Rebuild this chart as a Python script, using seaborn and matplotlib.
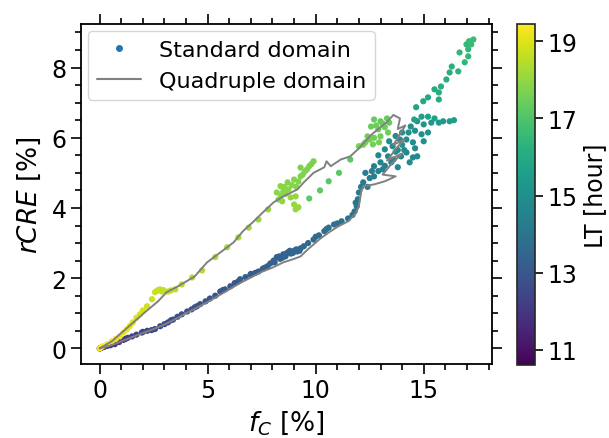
import numpy as np
import pandas as pd
import matplotlib
matplotlib.use("Agg")
import matplotlib.pyplot as plt
from matplotlib.lines import Line2D
from matplotlib.ticker import MultipleLocator
import seaborn as sns

# Standard domain, morning branch (lower curve)
morning_f = [0.0, 0.02, 0.05, 0.08, 0.12, 0.2, 0.35, 0.5, 0.7, 0.9, 1.1, 1.3, 1.5, 1.7, 1.95, 2.2,
             2.4, 2.56, 2.8, 3.0, 3.16, 3.4, 3.6, 3.8, 4.05, 4.25, 4.4, 4.65, 4.9, 5.1, 5.35, 5.58,
             5.8, 6.05, 6.25, 6.5, 6.75, 6.98, 7.2, 7.35, 7.55, 7.77, 7.9, 8.05, 8.2, 8.35, 8.5, 8.6,
             8.7, 8.85, 9.0, 9.15, 9.3, 9.45, 9.65, 9.9, 10.15, 10.4, 10.6, 10.85, 11.2, 11.5, 11.8,
             11.9, 11.95, 12.0,
             8.1, 8.3, 8.45, 8.65, 8.8, 8.95, 9.1, 9.25, 7.65, 7.0, 6.4, 5.7, 4.5, 3.3, 2.0, 1.2,
             10.0, 10.5, 11.0, 11.7, 11.85]
morning_r = [0.0, 0.0, 0.01, 0.02, 0.03, 0.04, 0.07, 0.09, 0.12, 0.18, 0.24, 0.3, 0.34, 0.39, 0.45, 0.5,
             0.52, 0.55, 0.63, 0.69, 0.74, 0.82, 0.9, 0.97, 1.05, 1.11, 1.17, 1.26, 1.34, 1.42, 1.5, 1.62,
             1.68, 1.77, 1.86, 1.97, 2.03, 2.1, 2.15, 2.19, 2.27, 2.34, 2.42, 2.5, 2.6, 2.55, 2.68, 2.62,
             2.73, 2.7, 2.78, 2.76, 2.85, 2.91, 3.0, 3.1, 3.22, 3.34, 3.44, 3.53, 3.62, 3.7, 3.9,
             4.05, 4.25, 4.44,
             2.45, 2.62, 2.58, 2.7, 2.78, 2.72, 2.82, 2.78, 2.3, 2.12, 1.9, 1.66, 1.2, 0.8, 0.47, 0.27,
             3.18, 3.4, 3.56, 3.8, 4.15]
morning_lt = [10.6, 10.85, 11.1, 11.35, 11.6, 11.8, 11.95, 12.0, 12.05, 12.1, 12.15, 12.2, 12.25, 12.3,
              12.35, 12.4, 12.45, 12.5, 12.55, 12.6, 12.62, 12.65, 12.7, 12.72, 12.75, 12.8, 12.82,
              12.85, 12.9, 12.92, 12.95, 13.0, 13.02, 13.05, 13.08, 13.1, 13.15, 13.18, 13.2, 13.22,
              13.25, 13.28, 13.3, 13.32, 13.35, 13.37, 13.4, 13.42, 13.45, 13.47, 13.5, 13.52, 13.55,
              13.58, 13.6, 13.65, 13.7, 13.75, 13.8, 13.85, 13.9, 13.95, 14.0, 14.05, 14.1, 14.15,
              13.33, 13.36, 13.39, 13.43, 13.46, 13.49, 13.52, 13.55, 13.27, 13.17, 13.08, 13.02,
              12.82, 12.63, 12.35, 12.17, 13.67, 13.78, 13.87, 13.97, 14.07]

# Standard domain, afternoon cluster and peak
noon_f = [12.2, 12.3, 12.1, 12.5, 12.7, 12.7, 12.9, 13.0, 13.2, 13.35, 13.6, 13.8, 13.95, 14.2, 14.5,
          14.7, 14.35, 13.2, 13.56, 13.9, 14.2, 14.5, 14.3, 14.4, 14.9, 15.2, 13.7, 14.0,
          12.4, 12.6, 13.1, 13.5, 13.8, 14.1, 14.6, 14.0, 13.7, 14.6, 15.0, 13.4, 12.9,
          14.7, 15.0, 15.35, 15.7, 15.9, 16.2, 16.4, 14.9, 15.2, 15.5,
          14.56, 14.65, 14.98, 15.2, 15.5, 15.7, 15.7, 15.8, 16.05, 16.2, 16.3, 16.6, 16.9, 16.66,
          17.06, 17.06, 16.98, 17.1, 17.3, 17.2]
noon_r = [4.73, 5.0, 4.6, 4.85, 4.9, 5.19, 5.05, 5.3, 5.2, 5.47, 5.38, 5.16, 5.47, 5.58, 5.44,
          5.47, 5.3, 5.67, 5.76, 5.95, 5.95, 5.87, 6.15, 6.32, 6.1, 6.15, 5.6, 5.8,
          4.6, 5.05, 5.1, 5.3, 5.65, 5.65, 5.7, 6.15, 6.05, 6.2, 5.9, 5.9, 5.5,
          6.47, 6.38, 6.43, 6.43, 6.47, 6.47, 6.5, 6.6, 6.6, 6.55,
          6.52, 6.87, 7.04, 7.15, 7.38, 7.09, 7.29, 7.46, 7.66, 7.86, 8.03, 7.89, 8.15, 8.43,
          8.32, 8.52, 8.66, 8.75, 8.8, 8.66]
noon_lt = [14.25, 14.3, 14.2, 14.35, 14.4, 14.45, 14.5, 14.55, 14.55, 14.6, 14.6, 14.65, 14.7, 14.7,
           14.75, 14.75, 14.8, 14.85, 14.85, 14.9, 14.9, 14.95, 15.0, 15.05, 15.1, 15.15, 15.0, 15.1,
           14.3, 14.42, 14.52, 14.62, 14.8, 14.82, 14.9, 15.0, 14.95, 15.1, 15.05, 14.9, 14.7,
           15.2, 15.25, 15.3, 15.35, 15.4, 15.45, 15.5, 15.55, 15.6, 15.6,
           15.8, 15.85, 15.9, 15.95, 16.0, 16.0, 16.05, 16.1, 16.15, 16.2, 16.25, 16.3, 16.35, 16.4,
           16.45, 16.5, 16.5, 16.55, 16.6, 16.6]

# Standard domain, evening branch (upper curve)
evening_f = [11.6, 11.08, 10.6, 10.2, 9.7,
             13.4, 13.0, 12.7, 12.56, 12.9, 13.2, 13.35, 13.0, 12.7, 12.4, 12.3, 12.65, 12.93, 12.0,
             13.1, 12.8, 12.5, 13.3, 12.2,
             9.9, 9.7, 9.6, 9.5, 9.3, 9.2, 9.0, 8.7, 8.37, 8.5, 8.74, 8.2, 8.28, 8.45, 8.84, 9.07,
             9.0, 9.07, 9.2, 9.3, 9.8, 8.9, 8.6, 8.4, 9.1, 8.55, 9.4,
             7.8, 7.35, 6.9, 6.42, 5.9, 5.35, 4.74, 4.28, 3.8,
             3.5, 3.3, 3.16, 2.95, 2.87, 2.79, 2.7, 2.65, 2.56, 2.42,
             2.19, 2.0, 1.86, 1.7, 1.53, 1.4, 1.26, 1.1, 0.93, 0.75, 0.56, 0.35, 0.14, 0.05, 0.0]
evening_r = [5.38, 5.0, 4.76, 4.5, 4.27,
             6.43, 6.47, 6.52, 6.32, 6.24, 6.3, 6.15, 6.04, 6.0, 6.04, 5.87, 5.81, 5.87, 5.76,
             6.4, 6.35, 5.95, 6.55, 5.8,
             5.33, 5.19, 5.1, 5.04, 4.9, 4.75, 4.81, 4.73, 4.62, 4.47, 4.53, 4.44, 4.24, 4.19, 4.3, 4.33,
             4.1, 3.96, 4.02, 5.15, 5.25, 4.65, 4.4, 4.35, 4.6, 4.6, 4.95,
             3.96, 3.67, 3.44, 3.16, 2.88, 2.6, 2.22, 2.02, 1.82,
             1.68, 1.65, 1.62, 1.66, 1.62, 1.68, 1.66, 1.64, 1.6, 1.4,
             1.2, 1.08, 0.97, 0.87, 0.74, 0.64, 0.54, 0.45, 0.34, 0.27, 0.2, 0.12, 0.06, 0.02, 0.0]
evening_lt = [17.15, 17.2, 17.22, 17.25, 17.3,
              17.35, 17.37, 17.4, 17.42, 17.44, 17.46, 17.48, 17.5, 17.52, 17.54, 17.56, 17.58, 17.6, 17.62,
              17.4, 17.45, 17.55, 17.38, 17.6,
              17.7, 17.72, 17.74, 17.76, 17.78, 17.8, 17.82, 17.84, 17.86, 17.88, 17.9, 17.92, 17.94,
              17.96, 17.98, 18.0, 18.0, 18.02, 18.04, 17.72, 17.71, 17.85, 17.9, 17.9, 17.83, 17.87, 17.77,
              18.1, 18.15, 18.2, 18.25, 18.3, 18.35, 18.4, 18.45, 18.5,
              18.55, 18.58, 18.6, 18.62, 18.64, 18.65, 18.66, 18.68, 18.7, 18.75,
              18.8, 18.85, 18.9, 18.95, 19.0, 19.05, 19.1, 19.15, 19.2, 19.25, 19.3, 19.35, 19.4,
              19.42, 19.45]

# Quadruple domain (gray line)
quad_f = [0.0, 0.5, 1.0, 1.5, 2.0, 2.5, 3.0, 3.5, 4.0, 4.5, 5.0, 5.5, 6.0, 6.5, 7.0, 7.5, 8.0, 8.5,
          9.0, 9.3, 9.6, 10.2, 10.6, 11.0, 11.5, 11.86, 12.0, 12.1, 12.2, 12.7, 13.2, 13.7,
          13.1, 13.5, 14.0, 13.3, 13.8, 14.1, 13.6, 13.9, 14.15, 13.8, 13.9, 13.6,
          13.3, 13.0, 12.6, 12.3, 11.95, 11.6, 11.16, 10.7, 10.5, 10.4, 9.9, 9.45, 9.16, 8.5,
          8.05, 7.6, 7.1, 6.65, 6.2, 5.58, 4.97, 4.4, 3.63, 3.1, 2.7, 2.1, 1.3, 0.56, 0.0]
quad_r = [0.0, 0.08, 0.2, 0.32, 0.44, 0.55, 0.68, 0.83, 1.0, 1.16, 1.32, 1.5, 1.68, 1.86, 2.02, 2.18,
          2.3, 2.45, 2.55, 2.62, 2.8, 3.12, 3.3, 3.46, 3.62, 3.85, 4.05, 4.44, 4.62, 4.67, 4.76, 4.9,
          4.95, 5.25, 5.55, 5.35, 5.75, 5.95, 5.8, 6.1, 6.35, 6.25, 6.55, 6.65,
          6.45, 6.3, 6.1, 5.9, 5.67, 5.47, 5.38, 5.19, 5.33, 5.16, 5.0, 4.73, 4.53, 4.33,
          4.16, 3.9, 3.6, 3.35, 3.02, 2.73, 2.45, 2.05, 1.77, 1.6, 1.34, 1.03, 0.6, 0.2, 0.0]

df = pd.DataFrame({
    "f_c": morning_f + noon_f + evening_f,
    "rcre": morning_r + noon_r + evening_r,
    "lt": morning_lt + noon_lt + evening_lt,
})
quad = pd.DataFrame({"f_c": quad_f, "rcre": quad_r})

lt_min, lt_max = df["lt"].min(), df["lt"].max()

sns.set_style("ticks")
plt.rcParams["font.family"] = ["DejaVu Sans"]
plt.rcParams["text.color"] = "black"
plt.rcParams["axes.labelcolor"] = "black"

fig = plt.figure(figsize=(6.09, 4.39), dpi=100)
ax = fig.add_axes([0.133, 0.169, 0.675, 0.774])
cax = fig.add_axes([0.849, 0.166, 0.029, 0.777])

sns.scatterplot(data=df, x="f_c", y="rcre", hue="lt", palette="viridis", hue_norm=(lt_min, lt_max),
                s=20, linewidth=0, legend=False, ax=ax, zorder=2)
sns.lineplot(data=quad, x="f_c", y="rcre", sort=False, estimator=None, color="gray",
             linewidth=1.4, ax=ax, zorder=3)

ax.set_xlabel("$f_C$ [%]", fontsize=19, labelpad=4)
ax.set_ylabel("$rCRE$ [%]", fontsize=19, labelpad=6)

ax.xaxis.set_major_locator(MultipleLocator(5))
ax.xaxis.set_minor_locator(MultipleLocator(1))
ax.yaxis.set_major_locator(MultipleLocator(2))
ax.yaxis.set_minor_locator(MultipleLocator(0.5))
ax.tick_params(which="both", direction="out", top=True, right=True, width=1.2, colors="black")
ax.tick_params(which="major", length=7, labelsize=17)
ax.tick_params(which="minor", length=4)
for sp in ax.spines.values():
    sp.set_linewidth(1.3)
    sp.set_color("black")

handles = [Line2D([], [], marker="o", ls="", color="#1f77b4", markersize=4, label="Standard domain"),
           Line2D([], [], color="gray", lw=1.5, label="Quadruple domain")]
ax.legend(handles=handles, loc="upper left", fontsize=16, frameon=True, borderaxespad=0.3)

sm = plt.cm.ScalarMappable(norm=plt.Normalize(lt_min, lt_max), cmap="viridis")
cb = fig.colorbar(sm, cax=cax)
cb.set_ticks([11, 13, 15, 17, 19])
cb.ax.tick_params(labelsize=17, length=6, width=1.2, colors="black")
cb.outline.set_linewidth(1.2)
cb.set_label("LT [hour]", fontsize=17, labelpad=4)

fig.savefig("out.png", dpi=100)
